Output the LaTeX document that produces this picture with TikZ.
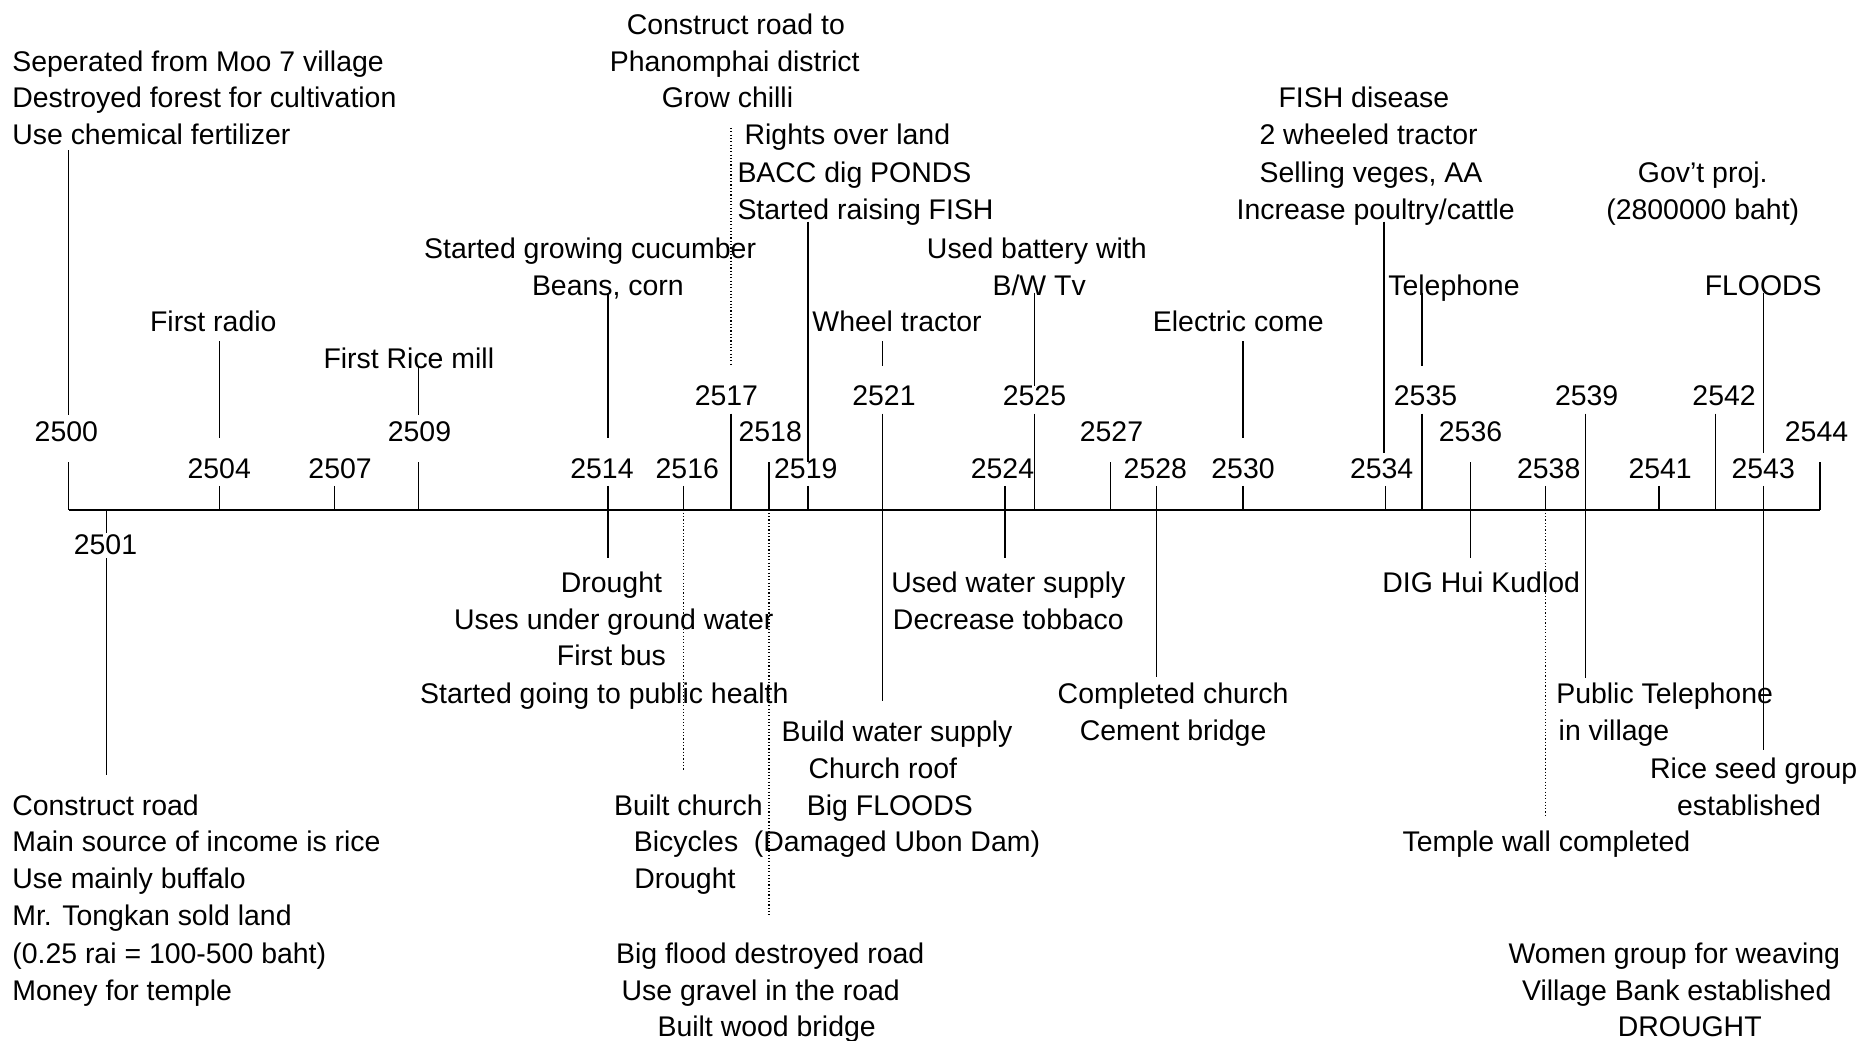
\documentclass[tikz,border=0pt]{standalone}
\usepackage{fontspec}
\setmainfont{Liberation Sans}
\newcommand\vseg[5][]{\coordinate (#2a) at (#3,#4); \coordinate (#2b) at (#3,#5); \draw[conn,#1] (#2a) -- (#2b);}
\begin{document}
\begin{tikzpicture}[x=0.5pt,y=-0.5pt,
  txt/.style={anchor=base,inner sep=0pt,font=\fontsize{12pt}{15pt}\selectfont},
  ltxt/.style={txt,anchor=base west},
  conn/.style={line width=0.55pt},
  dotline/.style={dash pattern=on 0.5pt off 0.9pt},
  axisline/.style={line width=0.85pt}]
\useasboundingbox[fill=white] (0,0) rectangle (1568,878);

% axis
\coordinate (ax0) at (58,430); \coordinate (ax1) at (1536,430);
\draw[axisline] (ax0) -- (ax1);

% year labels
\node[txt] (y2500) at (56,373) {2500};
\node[txt] (y2501) at (89,468) {2501};
\node[txt] (y2504) at (185,404) {2504};
\node[txt] (y2507) at (287,404) {2507};
\node[txt] (y2509) at (354,373) {2509};
\node[txt] (y2514) at (508,404) {2514};
\node[txt] (y2516) at (580,404) {2516};
\node[txt] (y2517) at (613,342) {2517};
\node[txt] (y2518) at (650,373) {2518};
\node[txt] (y2519) at (680,404) {2519};
\node[txt] (y2521) at (746,342) {2521};
\node[txt] (y2524) at (846,404) {2524};
\node[txt] (y2525) at (873,342) {2525};
\node[txt] (y2527) at (938,373) {2527};
\node[txt] (y2528) at (975,404) {2528};
\node[txt] (y2530) at (1049,404) {2530};
\node[txt] (y2534) at (1166,404) {2534};
\node[txt] (y2535) at (1203,342) {2535};
\node[txt] (y2536) at (1241,373) {2536};
\node[txt] (y2538) at (1307,404) {2538};
\node[txt] (y2539) at (1339,342) {2539};
\node[txt] (y2541) at (1401,404) {2541};
\node[txt] (y2542) at (1455,342) {2542};
\node[txt] (y2543) at (1488,404) {2543};
\node[txt] (y2544) at (1533,373) {2544};

% ticks above axis
\vseg{k2500}{58}{390}{430}
\vseg{k2504}{185}{410}{430}
\vseg{k2507}{282}{410}{430}
\vseg{k2509}{353}{390}{430}
\vseg{k2514}{513}{410}{430}
\vseg{k2516}{577}{410}{430}
\vseg{k2517}{617}{349}{430}
\vseg{k2518}{649}{390}{430}
\vseg{k2519}{682}{410}{430}
\vseg{k2521}{745}{349}{430}
\vseg{k2524}{848}{410}{430}
\vseg{k2525}{873}{349}{430}
\vseg{k2527}{937}{390}{430}
\vseg{k2528}{976}{410}{430}
\vseg{k2530}{1049}{410}{430}
\vseg{k2534}{1169}{410}{430}
\vseg{k2535}{1200}{349}{430}
\vseg{k2536}{1241}{390}{430}
\vseg{k2538}{1304}{410}{430}
\vseg{k2539}{1338}{349}{430}
\vseg{k2541}{1400}{410}{430}
\vseg{k2542}{1448}{349}{430}
\vseg{k2543}{1488}{410}{430}
\vseg{k2544}{1536}{390}{430}

% connectors below axis
\vseg{d2501a}{90}{430}{450}
\vseg{d2501b}{90}{471}{654}
\vseg{d2514}{513}{430}{471}
\vseg[dotline]{d2516}{577}{430}{650}
\vseg[dotline]{d2518}{649}{430}{772}
\vseg{d2521}{745}{430}{592}
\vseg{d2524}{848}{430}{471}
\vseg{d2528}{976}{430}{571}
\vseg{d2536}{1241}{430}{471}
\vseg[dotline]{d2538}{1304}{430}{690}
\vseg{d2539}{1338}{430}{572}
\vseg{d2543}{1488}{430}{633}

% connectors above labels
\vseg{u2500}{58}{127}{350}
\vseg{u2504}{185}{288}{370}
\vseg{u2509}{353}{309}{350}
\vseg{u2514}{513}{247}{370}
\vseg[dotline]{u2517}{617}{108}{309}
\vseg{u2519}{682}{187}{390}
\vseg{u2521}{745}{288}{309}
\vseg{u2525}{873}{247}{326}
\vseg{u2530}{1049}{288}{370}
\vseg{u2534}{1168}{187}{382}
\vseg{u2535}{1200}{247}{309}
\vseg{u2543}{1488}{247}{382}

% upper texts
\node[ltxt] (a1) at (10,60) {Seperated from Moo 7 village};
\node[ltxt] (a2) at (10,91) {Destroyed forest for cultivation};
\node[ltxt] (a3) at (10,122) {Use chemical fertilizer};

\node[txt] (b1) at (621,29) {Construct road to};
\node[txt] (b2) at (620,60) {Phanomphai district};
\node[txt] (b3) at (614,91) {Grow chilli};

\node[ltxt] (c1) at (628,122) {Rights over land};
\node[ltxt] (c2) at (622,154) {BACC dig PONDS};
\node[ltxt] (c3) at (622,185) {Started raising FISH};

\node[txt] (e1) at (498,218) {Started growing cucumber};
\node[txt] (e2) at (513,249) {Beans, corn};

\node[txt] (f1) at (875,218) {Used battery with};
\node[txt] (f2) at (877,249) {B/W Tv};

\node[txt] (g1) at (180,280) {First radio};
\node[txt] (g2) at (345,311) {First Rice mill};
\node[txt] (g3) at (757,280) {Wheel tractor};
\node[txt] (g4) at (1045,280) {Electric come};

\node[txt] (h1) at (1151,91) {FISH disease};
\node[txt] (h2) at (1155,122) {2 wheeled tractor};
\node[txt] (h3) at (1157,154) {Selling veges, AA};
\node[txt] (h4) at (1161,185) {Increase poultry/cattle};

\node[txt] (i1) at (1227,249) {Telephone};
\node[txt] (j1) at (1437,154) {Gov’t proj.};
\node[txt] (j2) at (1437,185) {(2800000 baht)};
\node[txt] (k1) at (1488,249) {FLOODS};

% lower texts
\node[ltxt] (l1) at (10,688) {Construct road};
\node[ltxt] (l2) at (10,719) {Main source of income is rice};
\node[ltxt] (l3) at (10,750) {Use mainly buffalo};
\node[ltxt] (l4) at (10,781) {Mr. Tongkan sold land};
\node[ltxt] (l5) at (10,813) {(0.25 rai = 100-500 baht)};
\node[ltxt] (l6) at (10,844) {Money for temple};

\node[txt] (m1) at (516,500) {Drought};
\node[txt] (m2) at (518,531) {Uses under ground water};
\node[txt] (m3) at (516,562) {First bus};
\node[txt] (m4) at (510,594) {Started going to public health};

\node[txt] (n1) at (581,688) {Built church};
\node[txt] (n2) at (579,719) {Bicycles};
\node[txt] (n3) at (578,750) {Drought};

\node[txt] (o1) at (650,813) {Big flood destroyed road};
\node[txt] (o2) at (642,844) {Use gravel in the road};
\node[txt] (o3) at (647,875) {Built wood bridge};

\node[txt] (p1) at (757,626) {Build water supply};
\node[txt] (p2) at (745,657) {Church roof};
\node[txt] (p3) at (751,688) {Big FLOODS};
\node[txt] (p4) at (757,719) {(Damaged Ubon Dam)};

\node[txt] (q1) at (851,500) {Used water supply};
\node[txt] (q2) at (851,531) {Decrease tobbaco};

\node[txt] (r1) at (990,594) {Completed church};
\node[txt] (r2) at (990,625) {Cement bridge};

\node[txt] (s1) at (1250,500) {DIG Hui Kudlod};

\node[ltxt] (t1) at (1313,594) {Public Telephone};
\node[ltxt] (t2) at (1315,625) {in village};

\node[txt] (v1) at (1305,719) {Temple wall completed};

\node[txt] (w1) at (1480,657) {Rice seed group};
\node[txt] (w2) at (1476,688) {established};

\node[txt] (z1) at (1413,813) {Women group for weaving};
\node[txt] (z2) at (1415,844) {Village Bank established};
\node[txt] (z3) at (1426,875) {DROUGHT};
\end{tikzpicture}
\end{document}
